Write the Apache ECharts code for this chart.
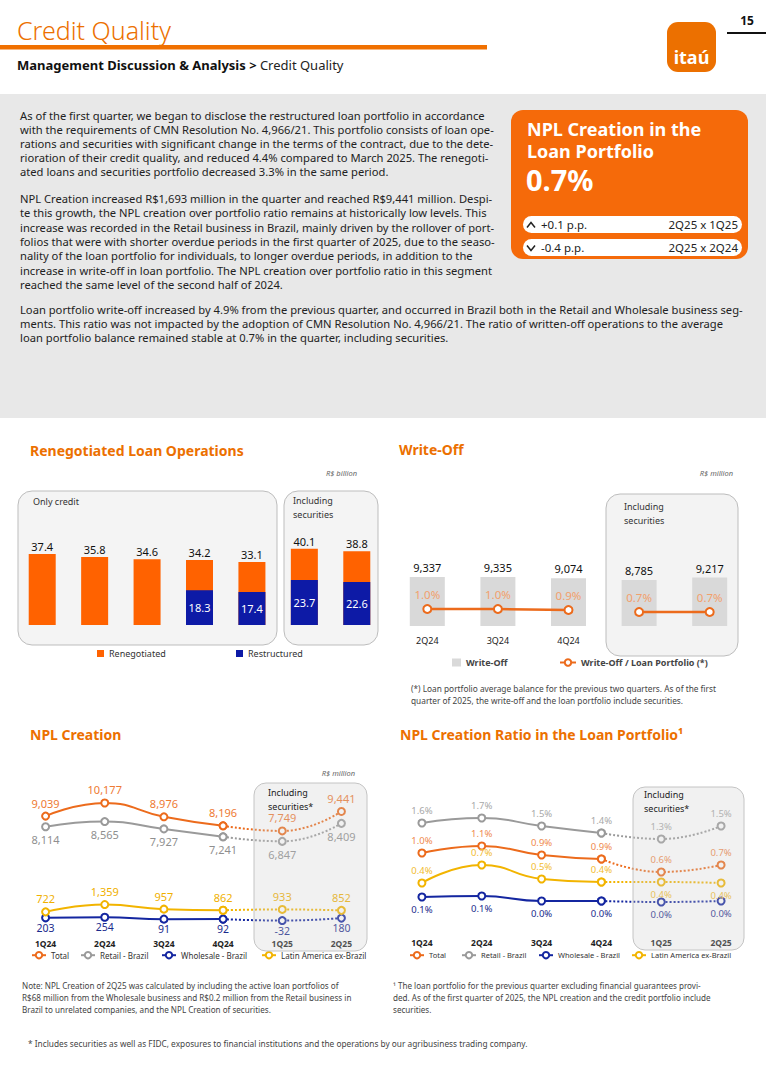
<!DOCTYPE html>
<html>
<head>
<meta charset="utf-8">
<script src="https://cdn.jsdelivr.net/npm/echarts@6/dist/echarts.min.js"></script>
<style>
html,body{margin:0;padding:0;background:#fff;}
#page{width:766px;height:1083px;}
</style>
</head>
<body>
<div id="page"></div>
<script>
// ---------- DATA ----------
const renegCats = ['Jun-24','Sep-24','Dec-24','Mar-25','Jun-25','Mar-25','Jun-25'];
const renegTotal = [37.4,35.8,34.6,34.2,33.1,40.1,38.8];
const restructured = [null,null,null,18.3,17.4,23.7,22.6];

const woCats = ['2Q24','3Q24','4Q24','1Q25','2Q25'];
const writeOff = [9337,9335,9074,8785,9217];
const woRatio = [1.0,1.0,0.9,0.7,0.7];

const nplCats = ['1Q24','2Q24','3Q24','4Q24','1Q25','2Q25'];
const nplTotal = [9039,10177,8976,8196,7749,9441];
const nplRetail = [8114,8565,7927,7241,6847,8409];
const nplWholesale = [203,254,91,92,-32,180];
const nplLatam = [722,1359,957,862,933,852];

const ratioTotal = [0.98,1.12,0.94,0.86,0.60,0.74];
const ratioRetail = [1.58,1.68,1.52,1.38,1.26,1.52];
const ratioWholesale = [0.10,0.12,0.02,0.02,0.00,0.02];
const ratioLatam = [0.38,0.74,0.46,0.40,0.40,0.38];

// ---------- STYLE ----------
const FONT = "'Noto Sans', 'DejaVu Sans', sans-serif";
const ORANGE = '#ec7000';
const C_TOTAL = '#ec6b1c', C_RETAIL = '#9a9a9a', C_WHOLE = '#1426a0', C_LATAM = '#f2b400';

function T(x, y, text, size, color, o) {
  o = o || {};
  return {
    type: 'text', x: x, y: y, z: o.z || 30,
    style: {
      text: text, fill: color,
      font: (o.style || 'normal') + ' ' + (o.weight || 'normal') + ' ' + size + 'px ' + FONT,
      textAlign: o.align || 'left',
      textVerticalAlign: o.va || 'middle',
      lineHeight: o.lh
    }
  };
}
function R(x, y, w, h, r, fill, stroke, z, lw) {
  return {type: 'rect', z: z || 1, shape: {x: x, y: y, width: w, height: h, r: r},
          style: {fill: fill, stroke: stroke || null, lineWidth: lw || 1}};
}

const p1 = [
 'As of the first quarter, we began to disclose the restructured loan portfolio in accordance',
 'with the requirements of CMN Resolution No. 4,966/21. This portfolio consists of loan ope-',
 'rations and securities with significant change in the terms of the contract, due to the dete-',
 'rioration of their credit quality, and reduced 4.4% compared to March 2025. The renegoti-',
 'ated loans and securities portfolio decreased 3.3% in the same period.'
].join('\n');
const p2 = [
 'NPL Creation increased R$1,693 million in the quarter and reached R$9,441 million. Despi-',
 'te this growth, the NPL creation over portfolio ratio remains at historically low levels. This',
 'increase was recorded in the Retail business in Brazil, mainly driven by the rollover of port-',
 'folios that were with shorter overdue periods in the first quarter of 2025, due to the seaso-',
 'nality of the loan portfolio for individuals, to longer overdue periods, in addition to the',
 'increase in write-off in loan portfolio. The NPL creation over portfolio ratio in this segment',
 'reached the same level of the second half of 2024.'
].join('\n');
const p3 = [
 'Loan portfolio write-off increased by 4.9% from the previous quarter, and occurred in Brazil both in the Retail and Wholesale business seg-',
 'ments. This ratio was not impacted by the adoption of CMN Resolution No. 4,966/21. The ratio of written-off operations to the average',
 'loan portfolio balance remained stable at 0.7% in the quarter, including securities.'
].join('\n');

const graphics = [
  // header
  T(17, 30, 'Credit Quality', 25, ORANGE, {weight: 300}),
  R(0, 45, 487, 4.5, 0, '#f07000'),
  {type: 'text', x: 17, y: 65, z: 30, style: {
    text: '{b|Management Discussion & Analysis >} {r|Credit Quality}',
    textVerticalAlign: 'middle',
    rich: {b: {fontFamily: FONT, fontSize: 13, fontWeight: 'bold', fill: '#111', color: '#111'},
           r: {fontFamily: FONT, fontSize: 13, fill: '#222', color: '#222'}}}},
  R(667, 22, 49, 50, 11, '#ec7000'),
  T(691.5, 57, 'itaú', 18, '#ffffff', {weight: 'bold', align: 'center'}),
  T(747, 20, '15', 12, '#111', {weight: 'bold', align: 'center'}),
  {type: 'line', z: 5, shape: {x1: 727, y1: 33, x2: 766, y2: 33}, style: {stroke: '#111', lineWidth: 2}},

  // grey panel
  R(0, 94, 766, 324, 0, '#e8e8e8'),
  T(20, 108, p1, 11.2, '#222', {va: 'top', lh: 14.2}),
  T(20, 191, p2, 11.2, '#222', {va: 'top', lh: 14.4}),
  T(20, 302, p3, 11.2, '#222', {va: 'top', lh: 14.2}),

  // orange card
  R(511, 110, 237, 149, 12, '#f56a0a', null, 3),
  T(527, 129, 'NPL Creation in the', 18, '#fff', {weight: 'bold'}),
  T(527, 151, 'Loan Portfolio', 18, '#fff', {weight: 'bold'}),
  T(526, 179, '0.7%', 29, '#fff', {weight: 'bold'}),
  R(523, 216, 219, 17, 8.5, '#ffffff', null, 4),
  R(523, 239, 219, 17, 8.5, '#ffffff', null, 4),
  {type: 'polyline', z: 6, shape: {points: [[527, 227.5], [531, 222.5], [535, 227.5]]}, style: {stroke: '#222', lineWidth: 1.5, fill: null}},
  {type: 'polyline', z: 6, shape: {points: [[527, 245.5], [531, 250.5], [535, 245.5]]}, style: {stroke: '#222', lineWidth: 1.5, fill: null}},
  T(541, 224.5, '+0.1 p.p.', 11.5, '#222'),
  T(738, 224.5, '2Q25 x 1Q25', 11.5, '#222', {align: 'right'}),
  T(541, 247.5, '-0.4 p.p.', 11.5, '#222'),
  T(738, 247.5, '2Q25 x 2Q24', 11.5, '#222', {align: 'right'}),

  // Renegotiated section
  T(30, 450, 'Renegotiated Loan Operations', 14, ORANGE, {weight: 'bold'}),
  T(357, 473, 'R$ billion', 7.5, '#666', {style: 'italic', align: 'right'}),
  R(18, 491, 259, 154, 14, '#f4f4f4', '#bdbdbd', 0),
  R(284, 491, 94, 154, 14, '#f4f4f4', '#bdbdbd', 0),
  T(33, 501, 'Only credit', 9, '#333'),
  T(293, 500, 'Including', 9, '#333'),
  T(293, 514, 'securities', 9, '#333'),

  // Write-off section
  T(399, 449, 'Write-Off', 14, ORANGE, {weight: 'bold'}),
  T(733, 473, 'R$ million', 7.5, '#666', {style: 'italic', align: 'right'}),
  R(606, 494, 132, 162, 14, '#f3f3f3', '#bdbdbd', 0),
  T(624, 506, 'Including', 9, '#333'),
  T(624, 520, 'securities', 9, '#333'),
  T(411, 682, '(*) Loan portfolio average balance for the previous two quarters. As of the first\nquarter of 2025, the write-off and the loan portfolio include securities.', 8.3, '#444', {va: 'top', lh: 12}),

  // NPL creation section
  T(30, 734, 'NPL Creation', 14, ORANGE, {weight: 'bold'}),
  T(355, 773, 'R$ million', 7.5, '#666', {style: 'italic', align: 'right'}),
  R(254, 783, 113, 168, 12, 'rgba(205,205,205,0.28)', '#c4c4c4', 100),
  T(268, 792, 'Including', 9, '#222', {z: 110}),
  T(268, 806, 'securities*', 9, '#222', {z: 110}),

  // NPL ratio section
  T(400, 734, 'NPL Creation Ratio in the Loan Portfolio¹', 14, ORANGE, {weight: 'bold'}),
  R(633, 787, 111, 163, 12, 'rgba(205,205,205,0.28)', '#c4c4c4', 100),
  T(644, 794, 'Including', 9, '#222', {z: 110}),
  T(644, 808, 'securities*', 9, '#222', {z: 110}),

  // footnotes
  T(22, 979, 'Note: NPL Creation of 2Q25 was calculated by including the active loan portfolios of\nR$68 million from the Wholesale business and R$0.2 million from the Retail business in\nBrazil to unrelated companies, and the NPL Creation of securities.', 8.1, '#444', {va: 'top', lh: 12}),
  T(393, 979, '¹ The loan portfolio for the previous quarter excluding financial guarantees provi-\nded. As of the first quarter of 2025, the NPL creation and the credit portfolio include\nsecurities.', 8.1, '#444', {va: 'top', lh: 12}),
  T(28, 1043, '* Includes securities as well as FIDC, exposures to financial institutions and the operations by our agribusiness trading company.', 8.3, '#444')
];

// ---------- SERIES BUILDERS ----------
function segSeries(name, vals, color, xi, yi, posFn, fmt, labelColor, fontSize, dist) {
  const solid = vals.map((v, i) => i <= 3 ? {value: v, label: {position: posFn(i)}} : '-');
  const dotted = vals.map((v, i) => i < 3 ? '-' : (i === 3 ? {value: v, label: {show: false}} : {value: v, label: {position: posFn(i)}}));
  const base = {
    type: 'line', name: name, xAxisIndex: xi, yAxisIndex: yi, smooth: true,
    symbol: 'emptyCircle', symbolSize: 7, z: 5,
    itemStyle: {color: color, borderWidth: 2},
    label: {show: true, color: labelColor, fontSize: fontSize, fontFamily: FONT, formatter: fmt, distance: dist == null ? 3 : dist},
    emphasis: {disabled: true}, animation: false
  };
  return [
    Object.assign({}, base, {data: solid, lineStyle: {color: color, width: 2}}),
    Object.assign({}, base, {data: dotted, lineStyle: {color: color, width: 2, type: 'dotted'}})
  ];
}
const fmtNum = p => Number(p.value).toLocaleString('en-US');
const fmtPct = p => Number(p.value).toFixed(1) + '%';
const posTop = () => 'top', posBottom = () => 'bottom';

const woSeg1 = woRatio.map((v, i) => i < 3 ? v : '-');
const woSeg2 = woRatio.map((v, i) => i >= 3 ? v : '-');

function catAxis(gi, data, size, margin, color, weight) {
  return {gridIndex: gi, type: 'category', data: data,
    axisLine: {show: false}, axisTick: {show: false}, splitLine: {show: false},
    axisLabel: {fontSize: size, margin: margin, color: color || '#222', fontFamily: FONT, fontWeight: weight || 'normal', interval: 0}};
}
const legTxt = {fontSize: 8, color: '#333', fontFamily: FONT};
const legTxtR = {fontSize: 7.5, color: '#333', fontFamily: FONT};
function leg(name, left, topY, ts) {
  return {data: [name], left: left, top: topY, itemWidth: 14, itemHeight: 8, itemGap: 4, textStyle: ts, selectedMode: false, padding: 0};
}

const option = {
  animation: false,
  textStyle: {fontFamily: FONT},
  grid: [
    {left: 16, top: 511, width: 367, height: 114},
    {left: 392, top: 521, width: 353, height: 105},
    {left: 16, top: 782, width: 355, height: 152},
    {left: 392, top: 782, width: 359, height: 150}
  ],
  xAxis: [
    catAxis(0, renegCats, 10, 6),
    catAxis(1, woCats, 9, 10),
    catAxis(2, nplCats, 8.5, 5, '#222', 'bold'),
    catAxis(3, nplCats, 8.5, 6, '#222', 'bold')
  ],
  yAxis: [
    {gridIndex: 0, min: 0, max: 60, show: false},
    {gridIndex: 1, min: 0, max: 20000, show: false},
    {gridIndex: 1, min: -0.7, max: 9.8, show: false},
    {gridIndex: 2, min: -1200, max: 12000, show: false},
    {gridIndex: 3, min: -0.6, max: 2.4, show: false}
  ],
  legend: [
    {data: [{name: 'Renegotiated', icon: 'rect'}], left: 97, top: 649, padding: 0, itemWidth: 7, itemHeight: 7, itemGap: 4, textStyle: {fontSize: 9, color: '#333', fontFamily: FONT}, selectedMode: false},
    {data: [{name: 'Restructured', icon: 'rect'}], left: 236, top: 649, padding: 0, itemWidth: 7, itemHeight: 7, itemGap: 4, textStyle: {fontSize: 9, color: '#333', fontFamily: FONT}, selectedMode: false},
    {data: [{name: 'Write-Off', icon: 'rect'}], left: 452, top: 658, padding: 0, itemWidth: 9, itemHeight: 8, textStyle: {fontSize: 9, fontWeight: 'bold', color: '#444', fontFamily: FONT}, selectedMode: false},
    {data: ['Write-Off / Loan Portfolio (*)'], left: 559, top: 658, padding: 0, itemWidth: 16, itemHeight: 8, itemGap: 2, textStyle: {fontSize: 9, fontWeight: 'bold', color: '#444', fontFamily: FONT}, selectedMode: false},
    leg('Total', 31, 951, legTxt),
    leg('Retail - Brazil', 80, 951, legTxt),
    leg('Wholesale - Brazil', 161, 951, legTxt),
    leg('Latin America ex-Brazil', 261, 951, legTxt),
    leg('Total', 409, 951, legTxtR),
    leg('Retail - Brazil', 461, 951, legTxtR),
    leg('Wholesale - Brazil', 538, 951, legTxtR),
    leg('Latin America ex-Brazil', 631, 951, legTxtR)
  ],
  graphic: {elements: graphics},
  series: [
    {type: 'bar', name: 'Renegotiated', xAxisIndex: 0, yAxisIndex: 0, data: renegTotal, barWidth: 27,
     itemStyle: {color: '#ff6200'}, z: 3,
     label: {show: true, position: 'top', distance: 2, color: '#111', fontSize: 11, fontFamily: FONT}},
    {type: 'bar', name: 'Restructured', xAxisIndex: 0, yAxisIndex: 0, data: restructured, barWidth: 27, barGap: '-100%',
     itemStyle: {color: '#0d1aa6'}, z: 4,
     label: {show: true, position: 'inside', color: '#fff', fontSize: 11, fontFamily: FONT}},
    {type: 'bar', name: 'Write-Off', xAxisIndex: 1, yAxisIndex: 1, data: writeOff, barWidth: 35,
     itemStyle: {color: '#d9d9d9'}, z: 3,
     label: {show: true, position: 'top', distance: 4, color: '#111', fontSize: 11, fontFamily: FONT, formatter: fmtNum}},
    {type: 'line', name: 'Write-Off / Loan Portfolio (*)', xAxisIndex: 1, yAxisIndex: 2, data: woSeg1,
     symbol: 'emptyCircle', symbolSize: 8, z: 5, itemStyle: {color: C_TOTAL, borderWidth: 2}, lineStyle: {color: C_TOTAL, width: 2.5},
     label: {show: true, position: 'top', distance: 4, color: '#f2a06c', fontSize: 11.5, fontFamily: FONT, formatter: fmtPct}},
    {type: 'line', name: 'Write-Off / Loan Portfolio (*)', xAxisIndex: 1, yAxisIndex: 2, data: woSeg2,
     symbol: 'emptyCircle', symbolSize: 8, z: 5, itemStyle: {color: C_TOTAL, borderWidth: 2}, lineStyle: {color: C_TOTAL, width: 2.5},
     label: {show: true, position: 'top', distance: 4, color: '#f2a06c', fontSize: 11.5, fontFamily: FONT, formatter: fmtPct}}
  ]
  .concat(segSeries('Total', nplTotal, C_TOTAL, 2, 3, posTop, fmtNum, '#ee7a33', 11))
  .concat(segSeries('Retail - Brazil', nplRetail, C_RETAIL, 2, 3, posBottom, fmtNum, '#8f8f8f', 11))
  .concat(segSeries('Wholesale - Brazil', nplWholesale, C_WHOLE, 2, 3, posBottom, fmtNum, '#1a2a8c', 10.5, 0))
  .concat(segSeries('Latin America ex-Brazil', nplLatam, C_LATAM, 2, 3, posTop, fmtNum, '#f0b000', 11))
  .concat(segSeries('Total', ratioTotal, C_TOTAL, 3, 4, posTop, fmtPct, '#ef8a4e', 9.5))
  .concat(segSeries('Retail - Brazil', ratioRetail, C_RETAIL, 3, 4, posTop, fmtPct, '#a8a8a8', 9.5))
  .concat(segSeries('Wholesale - Brazil', ratioWholesale, C_WHOLE, 3, 4, posBottom, fmtPct, '#1a2a8c', 9.5))
  .concat(segSeries('Latin America ex-Brazil', ratioLatam, C_LATAM, 3, 4, i => (i >= 4 ? 'bottom' : 'top'), fmtPct, '#f2bc30', 9.5))
};

const chart = echarts.init(document.getElementById('page'), null, {renderer: 'svg', width: 766, height: 1083});
chart.setOption(option);
</script>
</body>
</html>
